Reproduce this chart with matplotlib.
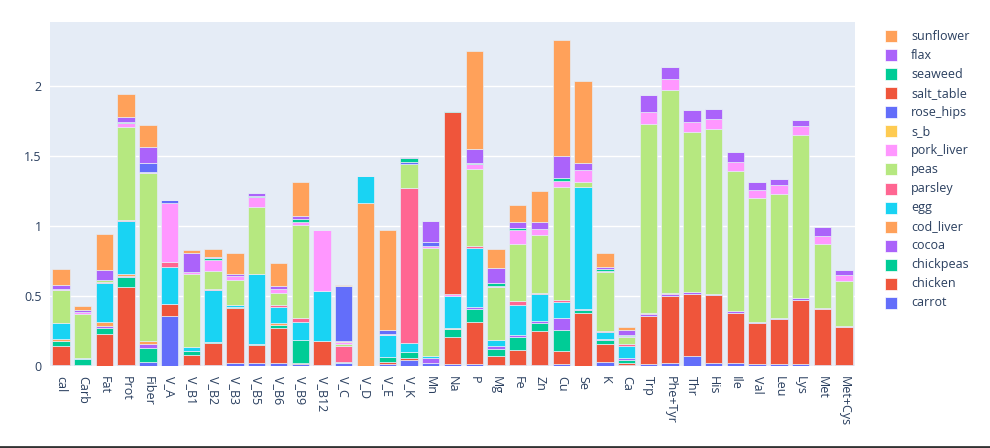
import matplotlib
matplotlib.use("Agg")
import matplotlib.pyplot as plt
import numpy as np
from matplotlib.patches import Rectangle
from matplotlib.lines import Line2D

categories = ["cal", "Carb", "Fat", "Prot", "Fiber", "V_A", "V_B1", "V_B2", "V_B3", "V_B5",
              "V_B6", "V_B9", "V_B12", "V_C", "V_D", "V_E", "V_K", "Mn", "Na", "P", "Mg",
              "Fe", "Zn", "Cu", "Se", "K", "Ca", "Trp", "Phe+Tyr", "Thr", "His", "Ile",
              "Val", "Leu", "Lys", "Met", "Met+Cys"]

carrot = [.01, .01, 0, .01, .03, .36, .01, .01, .02, .02, .02, .015, .005, .02, 0, .015, .04, .025, .015,
          .015, .01, .01, .01, .015, 0, .03, .01, .015, .025, .07, .02, .02, .015, .015, .015, .008, .005]
chicken = [.13, 0, .23, .555, 0, .08, .07, .155, .395, .13, .255, .01, .175, .005, 0, .015, .02, 0, .19,
           .30, .065, .105, .24, .095, .378, .13, .015, .34, .475, .445, .485, .36, .29, .32, .46, .40, .275]
chickpeas = [.04, .04, .045, .07, .10, 0, .025, .01, .01, .005, .02, .16, 0, 0, 0, .035, .04, 0, .06,
             .09, .045, .09, .06, .15, .025, .025, .02, 0, 0, 0, 0, 0, 0, 0, 0, 0, 0]
cocoa = [0, 0, .01, .005, .03, 0, 0, 0, 0, 0, 0, 0, 0, 0, 0, 0, 0, .035, 0,
         .02, .025, .015, .01, .08, .005, .01, .01, .02, .015, .012, .012, .01, .01, .01, .012, 0, 0]
cod_liver = [.01, 0, .03, .02, .02, 0, 0, 0, 0, 0, .01, 0, 0, 0, 1.166, 0, 0, 0, .008,
             0, 0, 0, 0, 0, 0, 0, 0, 0, 0, 0, 0, 0, 0, 0, 0, 0, 0]
egg = [.12, .005, .28, .375, 0, .27, .03, .37, .01, .50, .12, .13, .355, .005, .19, .155, .065, .015, .23,
       .42, .04, .215, .195, .12, .87, .05, .09, 0, 0, 0, 0, 0, 0, 0, 0, 0, 0]
parsley = [0, 0, .005, .005, 0, .035, 0, .005, 0, 0, .01, .025, 0, .11, 0, 0, 1.11, 0, 0,
           .01, 0, .03, .01, .01, 0, .005, .01, .007, .01, 0, 0, .005, 0, 0, 0, .008, .008]
peas = [.23, .315, .015, .665, 1.2, 0, .52, .13, .18, .48, .09, .665, 0, .015, 0, 0, .17, .77, 0,
        .555, .38, .41, .41, .81, .04, .42, .055, 1.345, 1.445, 1.145, 1.18, 1.0, .885, .885, 1.165, .455, .32]
pork_liver = [.01, .015, 0, .03, .005, .42, .015, .08, .025, .07, .025, .025, .435, .015, 0, .01, 0, .01, .01,
              .03, .01, .10, .045, .045, .08, .01, .005, .086, .08, .07, .07, .06, .055, .06, .065, .055, .04]
s_b = [0, 0, 0, 0, 0, 0, 0, 0, 0, 0, 0, 0, 0, .01, 0, 0, 0, 0, 0,
       0, 0, 0, 0, 0, 0, 0, 0, 0, 0, 0, 0, 0, 0, 0, 0, 0, 0]
rose_hips = [0, 0, 0, 0, .065, .02, 0, 0, 0, 0, 0, 0, 0, .39, 0, .025, .015, .03, 0,
             0, 0, 0, 0, 0, 0, 0, 0, 0, 0, 0, 0, 0, 0, 0, 0, 0, 0]
salt_table = [0, 0, 0, 0, 0, 0, 0, 0, 0, 0, 0, 0, 0, 0, 0, 0, 0, 0, 1.30,
              0, 0, 0, 0, 0, 0, 0, 0, 0, 0, 0, 0, 0, 0, 0, 0, 0, 0]
seaweed = [0, 0, 0, .005, 0, 0, 0, .015, 0, .01, 0, .02, 0, 0, 0, 0, .025, 0, .01,
           .01, .015, .01, 0, .015, 0, .01, .01, 0, 0, .005, 0, 0, 0, 0, 0, .005, 0]
flax = [.03, .012, .07, .04, .115, 0, .135, .005, .02, .02, .025, .025, 0, 0, 0, 0, .005, .15, 0,
        .10, .11, .043, .05, .16, .053, .02, .03, .125, .09, .08, .07, .072, .06, .045, .04, .06, .04]
sunflower = [.11, .03, .26, .165, .16, 0, .022, .055, .145, 0, .16, .24, 0, .008, 0, .72, 0, 0, 0,
             .70, .135, .12, .22, .83, .585, .10, .025, 0, 0, 0, 0, 0, 0, 0, 0, 0, 0]

series_names = ["carrot", "chicken", "chickpeas", "cocoa", "cod_liver", "egg", "parsley", "peas",
                "pork_liver", "s_b", "rose_hips", "salt_table", "seaweed", "flax", "sunflower"]
series_values = [carrot, chicken, chickpeas, cocoa, cod_liver, egg, parsley, peas,
                 pork_liver, s_b, rose_hips, salt_table, seaweed, flax, sunflower]
colors = ["#636efa", "#EF553B", "#00cc96", "#ab63fa", "#FFA15A", "#19d3f3", "#FF6692", "#B6E880",
          "#FF97FF", "#FECB52", "#636efa", "#EF553B", "#00cc96", "#ab63fa", "#FFA15A"]

W, H = 990, 448
fig = plt.figure(figsize=(W / 100, H / 100), dpi=100)
left, right, top, bottom = 50, 855, 22, 366
ax = fig.add_axes([left / W, 1 - bottom / H, (right - left) / W, (bottom - top) / H])
ax.set_facecolor("#E5ECF6")

x = np.arange(len(categories))
base = np.zeros(len(categories))
for name, vals, c in zip(series_names, series_values, colors):
    v = np.array(vals, dtype=float)
    ax.bar(x, v, bottom=base, width=0.8, color=c, edgecolor="#E5ECF6", linewidth=0.5, zorder=3)
    base += v

ax.set_xlim(-0.5, len(categories) - 0.5)
ax.set_ylim(0, base.max() * 1.055)
ax.set_yticks([0, 0.5, 1, 1.5, 2])
ax.set_yticklabels(["0", "0.5", "1", "1.5", "2"])
ax.set_xticks(x)
ax.set_xticklabels(categories, rotation=-90, va="top", ha="center")
ax.grid(axis="y", color="white", linewidth=1, zorder=0)
ax.set_axisbelow(True)
for s in ax.spines.values():
    s.set_visible(False)
tc = "#2a3f5f"
ax.tick_params(axis="both", length=0, labelsize=9, labelcolor=tc, labelfontfamily="Open Sans")
ax.tick_params(axis="x", pad=7)
ax.tick_params(axis="y", pad=6)

# legend (top entry = last trace)
for i, (name, c) in enumerate(zip(series_names[::-1], colors[::-1])):
    yc = 36 + i * 19.07
    fig.add_artist(Rectangle((885 / W, 1 - (yc + 6) / H), 12 / W, 12 / H,
                             transform=fig.transFigure, facecolor=c, edgecolor="white", linewidth=0.5))
    fig.text(911 / W, 1 - yc / H, name, fontsize=9, color=tc, family="Open Sans",
             va="center", ha="left")

fig.add_artist(Line2D([0, 1], [1.5 / H, 1.5 / H], transform=fig.transFigure, color="#333333", linewidth=2))

fig.savefig("out.png", dpi=100)
